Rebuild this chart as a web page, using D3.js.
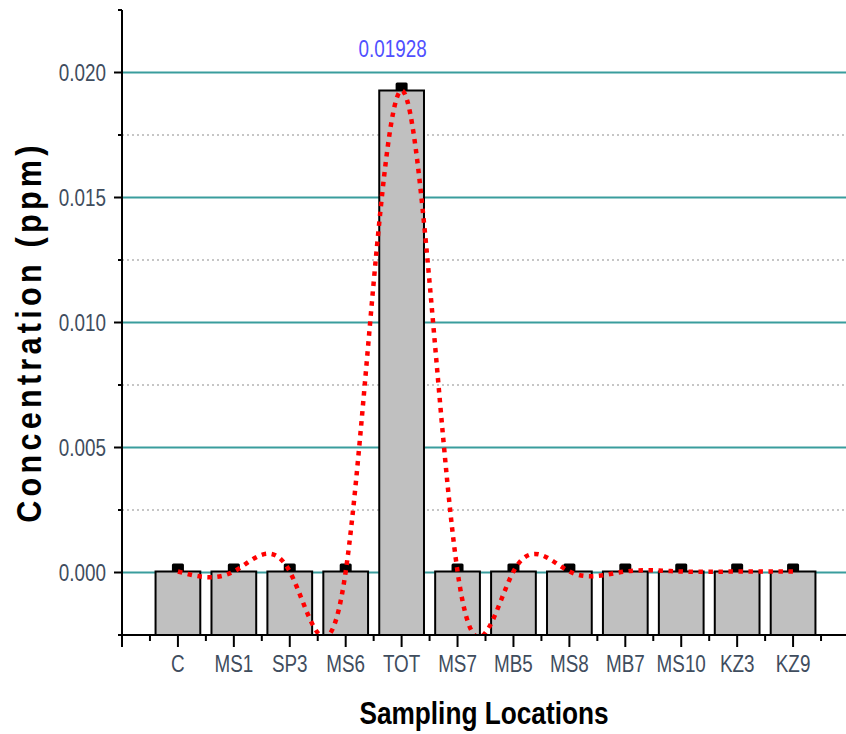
<!DOCTYPE html>
<html>
<head>
<meta charset="utf-8">
<script src="https://cdn.jsdelivr.net/npm/d3@7"></script>
<style>
  body { margin: 0; background: #fff; }
  svg { display: block; }
</style>
</head>
<body>
<svg id="chart" width="846" height="734"></svg>
<script>
// sampling locations and measured concentrations (ppm)
var locations = ["C", "MS1", "SP3", "MS6", "TOT", "MS7", "MB5", "MS8", "MB7", "MS10", "KZ3", "KZ9"];
var concentrations = [0.00004, 0.00004, 0.00004, 0.00004, 0.01928, 0.00004, 0.00004, 0.00004, 0.00004, 0.00004, 0.00004, 0.00004];
var yMajorTicks = [0, 0.005, 0.010, 0.015, 0.020];
var yMinorTicks = [-0.0025, 0.0025, 0.0075, 0.0125, 0.0175, 0.0225];
var peakLabel = "0.01928";

var svg = d3.select("#chart");
var font = "'Liberation Sans', Arial, sans-serif";
var squeeze = 0.82; // the original text looks condensed

var x = d3.scaleLinear().domain([0, 13]).range([122, 849]);
var y = d3.scaleLinear().domain([-0.0025, 0.0225]).range([635, 10]);

var xLeft = x(0), xRight = 846, yBottom = y(-0.0025), yTop = y(0.0225);

svg.append("clipPath").attr("id", "plot-clip")
  .append("rect")
    .attr("x", xLeft).attr("y", yTop)
    .attr("width", xRight - xLeft).attr("height", yBottom - yTop);

// grid lines
svg.append("g").selectAll("line")
  .data(yMinorTicks.slice(1, -1))
  .enter().append("line")
    .attr("x1", xLeft).attr("x2", xRight)
    .attr("y1", function(d) { return y(d); })
    .attr("y2", function(d) { return y(d); })
    .attr("stroke", "#b4b4b4")
    .attr("stroke-width", 1.5)
    .attr("stroke-dasharray", "2,3");

svg.append("g").selectAll("line")
  .data(yMajorTicks)
  .enter().append("line")
    .attr("x1", xLeft).attr("x2", xRight)
    .attr("y1", function(d) { return y(d); })
    .attr("y2", function(d) { return y(d); })
    .attr("stroke", "#3a9d9d")
    .attr("stroke-width", 2);

var idx = d3.range(locations.length);

// square markers (partly hidden under the bars)
svg.append("g").selectAll("rect")
  .data(idx)
  .enter().append("rect")
    .attr("x", function(i) { return x(i + 1) - 6; })
    .attr("y", function(i) { return y(concentrations[i]) - 8; })
    .attr("width", 12).attr("height", 12)
    .attr("rx", 1.5)
    .attr("fill", "#000");

// bars
var barW = (x(1) - x(0)) * 0.8;
svg.append("g").selectAll("rect")
  .data(idx)
  .enter().append("rect")
    .attr("x", function(i) { return x(i + 1) - barW / 2; })
    .attr("y", function(i) { return y(concentrations[i]); })
    .attr("width", barW)
    .attr("height", function(i) { return yBottom - y(concentrations[i]); })
    .attr("fill", "#c0c0c0")
    .attr("stroke", "#000")
    .attr("stroke-width", 2);

// spline through the points
var line = d3.line()
  .x(function(i) { return x(i + 1); })
  .y(function(i) { return y(concentrations[i]); })
  .curve(d3.curveNatural);

svg.append("path")
  .datum(idx)
  .attr("clip-path", "url(#plot-clip)")
  .attr("d", line)
  .attr("fill", "none")
  .attr("stroke", "#ff0000")
  .attr("stroke-width", 4.5)
  .attr("stroke-dasharray", "4.5,5.5");

// y axis
var yAxis = svg.append("g");
yAxis.append("line")
  .attr("x1", xLeft).attr("x2", xLeft)
  .attr("y1", yTop).attr("y2", yBottom + 12)
  .attr("stroke", "#000").attr("stroke-width", 2);
yAxis.selectAll(".major").data(yMajorTicks).enter().append("line")
  .attr("x1", xLeft - 8).attr("x2", xLeft)
  .attr("y1", function(d) { return y(d); })
  .attr("y2", function(d) { return y(d); })
  .attr("stroke", "#000").attr("stroke-width", 2);
yAxis.selectAll(".minor").data(yMinorTicks).enter().append("line")
  .attr("x1", xLeft - 4).attr("x2", xLeft)
  .attr("y1", function(d) { return y(d); })
  .attr("y2", function(d) { return y(d); })
  .attr("stroke", "#000").attr("stroke-width", 2);
yAxis.selectAll("text").data(yMajorTicks).enter().append("text")
  .attr("transform", function(d) { return "translate(106," + y(d) + ") scale(" + squeeze + ",1)"; })
  .attr("dy", "0.36em")
  .attr("text-anchor", "end")
  .attr("font-family", font)
  .attr("font-size", 23)
  .attr("fill", "#3f4d5e")
  .text(d3.format(".3f"));

// x axis
var xAxis = svg.append("g");
xAxis.append("line")
  .attr("x1", xLeft).attr("x2", xRight)
  .attr("y1", yBottom).attr("y2", yBottom)
  .attr("stroke", "#000").attr("stroke-width", 2);
xAxis.selectAll(".major").data(idx).enter().append("line")
  .attr("x1", function(i) { return x(i + 1); })
  .attr("x2", function(i) { return x(i + 1); })
  .attr("y1", yBottom).attr("y2", yBottom + 12)
  .attr("stroke", "#000").attr("stroke-width", 2);
xAxis.selectAll(".minor").data(d3.range(13)).enter().append("line")
  .attr("x1", function(i) { return x(i + 0.5); })
  .attr("x2", function(i) { return x(i + 0.5); })
  .attr("y1", yBottom).attr("y2", yBottom + 6)
  .attr("stroke", "#000").attr("stroke-width", 2);
xAxis.selectAll("text").data(idx).enter().append("text")
  .attr("transform", function(i) { return "translate(" + x(i + 1) + ",672) scale(" + squeeze + ",1)"; })
  .attr("text-anchor", "middle")
  .attr("font-family", font)
  .attr("font-size", 23)
  .attr("fill", "#3f4d5e")
  .text(function(i) { return locations[i]; });

// peak value label
svg.append("text")
  .attr("transform", "translate(" + (x(5) - 9) + ",57) scale(" + squeeze + ",1)")
  .attr("text-anchor", "middle")
  .attr("font-family", font)
  .attr("font-size", 23)
  .attr("fill", "#5050ff")
  .text(peakLabel);

// axis titles
svg.append("text")
  .attr("transform", "translate(41,332) rotate(-90) scale(0.85,1)")
  .attr("text-anchor", "middle")
  .attr("font-family", font)
  .attr("font-weight", "bold")
  .attr("font-size", 36)
  .attr("letter-spacing", 5)
  .attr("fill", "#000")
  .text("Concentration (ppm)");

svg.append("text")
  .attr("transform", "translate(484,724) scale(" + squeeze + ",1)")
  .attr("text-anchor", "middle")
  .attr("font-family", font)
  .attr("font-weight", "bold")
  .attr("font-size", 32)
  .attr("fill", "#000")
  .text("Sampling Locations");
</script>
</body>
</html>
